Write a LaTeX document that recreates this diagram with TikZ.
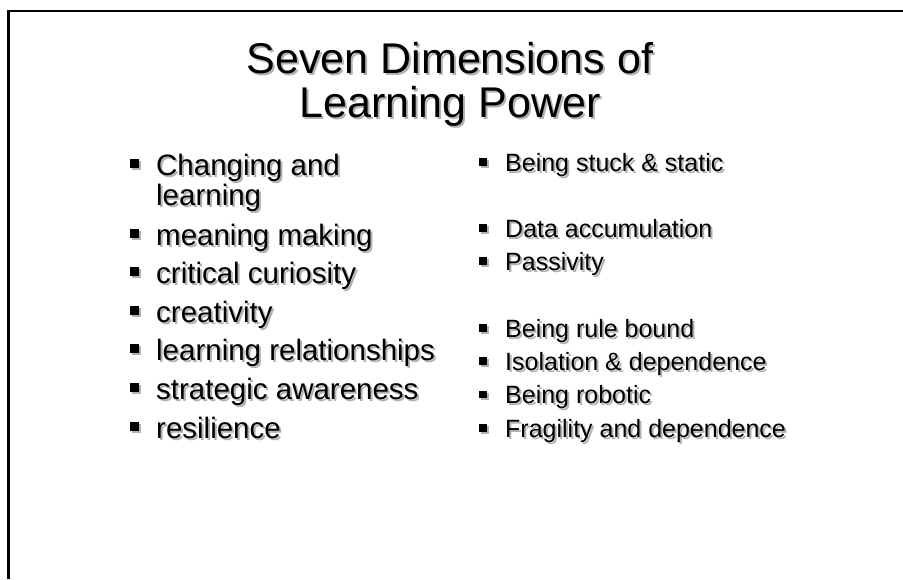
\documentclass[tikz,border=0pt]{standalone}
\usepackage{fontspec}
\setmainfont{Liberation Sans}
\usetikzlibrary{positioning}
\newcommand{\shd}[1]{\rlap{\kern2pt\raisebox{-2pt}{\textcolor{black!30}{#1}}}#1}
\newcommand{\bulL}{\makebox[26pt][l]{\rule[7.5pt]{9pt}{9pt}}}
\newcommand{\bulR}{\makebox[26pt][l]{\rule[5.5pt]{7.5pt}{7.5pt}}}

\begin{document}
\begin{tikzpicture}[x=1pt,y=1pt,
    title/.style={anchor=base,inner sep=0pt,font=\fontsize{43}{44}\selectfont},
    itemL/.style={anchor=base west,inner sep=0pt,font=\fontsize{29.5}{30}\selectfont},
    itemR/.style={anchor=base west,inner sep=0pt,font=\fontsize{25}{26}\selectfont}]
        \useasboundingbox (0,0) rectangle (903,-579);
        \draw[line width=2.5pt] (8.3,-579) -- (8.3,-11) -- (903,-11);

        \path
        % title
        +(450,-73)  node[title] (title1) {\shd{Seven Dimensions of}}
        +(450,-117) node[title] (title2) {\shd{Learning Power}}
        % left column
        +(130,-175)   node[itemL] (changing) {\vtop{\hbox{\shd{\bulL Changing and}}\hbox{\shd{\kern26pt learning}}}}
        +(130,-245)   node[itemL] (meaning)  {\shd{\bulL meaning making}}
        +(130,-283.6) node[itemL] (curious)  {\shd{\bulL critical curiosity}}
        +(130,-322.2) node[itemL] (creative) {\shd{\bulL creativity}}
        +(130,-360.8) node[itemL] (relation) {\shd{\bulL learning relationships}}
        +(130,-399.4) node[itemL] (strategy) {\shd{\bulL strategic awareness}}
        +(130,-438)   node[itemL] (resil)    {\shd{\bulL resilience}}
        % right column
        +(479,-171)   node[itemR] (stuck)    {\shd{\bulR Being stuck \& static}}
        +(479,-237)   node[itemR] (data)     {\shd{\bulR Data accumulation}}
        +(479,-270.3) node[itemR] (passive)  {\shd{\bulR Passivity}}
        +(479,-337)   node[itemR] (rule)     {\shd{\bulR Being rule bound}}
        +(479,-370.3) node[itemR] (isolate)  {\shd{\bulR Isolation \& dependence}}
        +(479,-403.6) node[itemR] (robot)    {\shd{\bulR Being robotic}}
        +(479,-437)   node[itemR] (fragile)  {\shd{\bulR Fragility and dependence}};
    \end{tikzpicture}
\end{document}
